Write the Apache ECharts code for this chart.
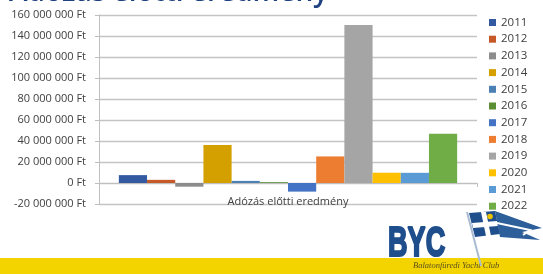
<!DOCTYPE html>
<html>
<head>
<meta charset="utf-8">
<script src="https://cdn.jsdelivr.net/npm/echarts@6/dist/echarts.min.js"></script>
<style>
  html, body { margin: 0; padding: 0; background: #fff; }
  #chart { width: 543px; height: 274px; }
</style>
</head>
<body>
<div id="chart"></div>
<script>
// adatok
const categories = ['Adózás előtti eredmény'];
const years = ['2011', '2012', '2013', '2014', '2015', '2016', '2017', '2018', '2019', '2020', '2021', '2022'];
const values = [7500000, 3000000, -3500000, 36100000, 2000000, 800000, -8200000, 25300000, 150400000, 9800000, 9700000, 46800000];
const colors = ['#335aa1', '#c55a28', '#8c8c8c', '#d4a000', '#4a80b4', '#5a8e33', '#4472c4', '#ed7d31', '#a5a5a5', '#ffc000', '#5b9bd5', '#70ad47'];

const chart = echarts.init(document.getElementById('chart'));

// Ft formázás szóközzel
const formatFt = (v) => String(v).replace(/\B(?=(\d{3})+(?!\d))/g, ' ') + ' Ft';

const series = years.map((y, i) => ({
  name: y,
  type: 'bar',
  data: [values[i]],
  itemStyle: { color: colors[i] },
  barGap: '0%',
  barCategoryGap: '10.5%'
}));

const option = {
  animation: false,
  textStyle: { fontFamily: 'Open Sans' },
  grid: { left: 99, right: 66, top: 15, bottom: 70 },
  legend: {
    orient: 'vertical',
    left: 484,
    top: 11.5,
    itemWidth: 7,
    itemHeight: 7,
    itemGap: 4.7,
    icon: 'rect',
    data: years,
    textStyle: { fontSize: 11.5, color: '#404040', lineHeight: 12, fontFamily: 'Open Sans' }
  },
  xAxis: {
    type: 'category',
    data: categories,
    axisLine: { onZero: true, lineStyle: { color: '#bfbfbf', width: 1 } },
    axisTick: { show: true, length: 4, lineStyle: { color: '#bfbfbf' } },
    // v6 a feliratot a rács aljára teszi, ezért negatív margó
    axisLabel: { color: '#404040', fontSize: 11, margin: -8, fontFamily: 'Open Sans' }
  },
  yAxis: {
    type: 'value',
    min: -20000000,
    max: 160000000,
    interval: 20000000,
    axisLine: { show: true, lineStyle: { color: '#bfbfbf' } },
    axisTick: { show: true, length: 4, lineStyle: { color: '#bfbfbf' } },
    axisLabel: { color: '#404040', fontSize: 11, margin: 13, formatter: formatFt, fontFamily: 'Open Sans' },
    splitLine: { lineStyle: { color: '#c4c4c4', width: 1.3 } }
  },
  graphic: [
    // cím (felül levágva)
    {
      type: 'text', left: 9, top: -21, silent: true,
      style: { text: 'Adózás előtti eredmény', fill: '#1f4180', font: '600 28px "Open Sans"' }
    },
    // sárga sáv
    {
      type: 'rect', left: 0, top: 258, silent: true,
      shape: { width: 543, height: 16 },
      style: { fill: '#f3d400' }
    },
    {
      type: 'text', x: 413, y: 266, silent: true,
      style: { text: 'Balatonfüredi Yacht Club', fill: '#5a5020', font: 'italic 8.5px "Liberation Serif"', verticalAlign: 'middle' }
    },
    // BYC logó
    {
      type: 'text', x: 388, y: 244, scaleX: 0.63, silent: true,
      style: { text: 'BYC', fill: '#1f4e8c', stroke: '#1f4e8c', lineWidth: 2.2, font: 'bold 43px "Liberation Sans"', verticalAlign: 'middle' }
    },
    // zászló rúd
    {
      type: 'line', silent: true,
      shape: { x1: 467, y1: 212, x2: 481, y2: 266 },
      style: { stroke: '#a9bcd3', lineWidth: 2 }
    },
    // zászló
    {
      type: 'polygon', silent: true,
      shape: { points: [[469, 213], [495, 211], [500, 234], [475, 237]] },
      style: { fill: '#1f4e8c' }
    },
    {
      type: 'polygon', silent: true,
      shape: { points: [[472, 223], [497, 221], [498, 226], [473, 228]] },
      style: { fill: '#ffffff' }
    },
    {
      type: 'polygon', silent: true,
      shape: { points: [[481, 212], [486, 212], [491, 236], [486, 236]] },
      style: { fill: '#ffffff' }
    },
    {
      type: 'circle', silent: true,
      shape: { cx: 490, cy: 216.5, r: 2.8 },
      style: { fill: '#e8c200' }
    },
    // fecskefarkú szalag
    {
      type: 'polygon', silent: true,
      shape: { points: [[495, 211], [542, 228], [522, 232], [540, 240], [500, 237]] },
      style: { fill: '#2d5f9a' }
    },
    {
      type: 'polyline', silent: true,
      shape: { points: [[497, 223], [530, 230], [523, 235]] },
      style: { stroke: '#ffffff', lineWidth: 2, fill: null }
    }
  ],
  series: series
};

chart.setOption(option);
</script>
</body>
</html>
